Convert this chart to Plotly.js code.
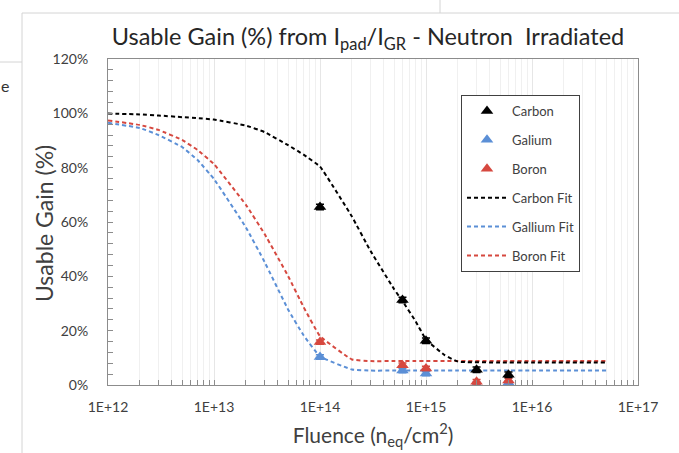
<!DOCTYPE html>
<html>
<head>
<meta charset="utf-8">
<script src="https://cdn.plot.ly/plotly-3.0.1.min.js"></script>
<style>html,body{margin:0;padding:0;background:#fff;}#chart{width:679px;height:453px;}</style>
</head>
<body>
<div id="chart"></div>
<script>
// ---- measured data (percent) ----
var fluence = [1e14, 6e14, 1e15, 3e15, 6e15];
var carbon  = [65.5, 31.3, 16.3, 5.6, 3.8];
var gallium = [10.3, 5.3, 4.2, 0.3, 0.8];
var boron   = [15.8, 7.3, 6.1, 1.2, 1.7];
var carbonErr  = [1.0, 1.0, 1.0, 1.0, 1.0];
var galliumErr = [0.8, 0.8, 0.8, 0.8, 0.8];
var boronErr   = [0.8, 0.8, 0.8, 0.8, 0.8];

// ---- fit curves ----
var fitFluence = [1e12, 2e12, 3e12, 5e12, 7e12, 1e13, 2e13, 3e13, 5e13, 7e13, 1e14, 2e14, 3e14, 5e14, 6e14, 8e14, 1e15, 1.5e15, 2e15, 5e15, 1e16, 5e16];
var carbonFit  = [99.9, 99.6, 99.2, 98.6, 98.2, 97.7, 95.5, 93.1, 88.3, 84.8, 80.4, 62.0, 49.3, 35.3, 30.9, 23.4, 16.7, 11.0, 8.6, 8.3, 8.3, 8.3];
var galliumFit = [96.5, 94.6, 92.0, 87.6, 82.8, 75.8, 58.0, 45.3, 27.8, 18.3, 10.5, 5.7, 5.3, 5.3, 5.3, 5.3, 5.3, 5.3, 5.3, 5.3, 5.3, 5.3];
var boronFit   = [97.4, 95.7, 93.9, 90.2, 86.5, 81.3, 66.3, 55.6, 40.1, 28.7, 18.0, 9.4, 8.8, 8.8, 8.8, 8.8, 8.8, 8.8, 8.8, 8.8, 8.8, 8.8];

// ---- tick labels ----
var xTickVals = [1e12, 1e13, 1e14, 1e15, 1e16, 1e17];
var xTickText = ['1E+12', '1E+13', '1E+14', '1E+15', '1E+16', '1E+17'];

var BLACK = '#000000', BLUE = '#5B8FD6', RED = '#D6483F';
var FONT = 'Lato, "Open Sans", sans-serif';

// plot-area pixel geometry (for decorative frame shapes / title placement)
var L = 108, R = 638, T = 59, B = 385;
function px(x){ return (x - L) / (R - L); }
function py(y){ return (B - y) / (B - T); }

function pts(name, y, err, color, rank){
  return {x: fluence, y: y, name: name, type: 'scatter', mode: 'markers',
    marker: {symbol: 'triangle-up', size: 11, color: color},
    error_y: {type: 'data', array: err, visible: true, color: color, thickness: 1.5, width: 4},
    legendrank: rank, legendgroup: name};
}
function fit(name, y, color, rank){
  return {x: fitFluence, y: y, name: name, type: 'scatter', mode: 'lines',
    line: {color: color, width: 2, dash: '4px,3px', shape: 'spline', smoothing: 0.3},
    legendrank: rank, legendgroup: name};
}

var data = [
  fit('Gallium Fit', galliumFit, BLUE, 5),
  fit('Boron Fit', boronFit, RED, 6),
  fit('Carbon Fit', carbonFit, BLACK, 4),
  pts('Galium', gallium, galliumErr, BLUE, 2),
  pts('Boron', boron, boronErr, RED, 3),
  pts('Carbon', carbon, carbonErr, BLACK, 1)
];

var frame = '#d4d4d4';
var layout = {
  width: 679, height: 453,
  margin: {l: L, r: 679 - R, t: T, b: 453 - B, pad: 0},
  paper_bgcolor: '#ffffff', plot_bgcolor: '#ffffff',
  font: {family: FONT, color: '#404040', size: 12},
  title: {text: 'Usable Gain (%) from I<sub>pad</sub>/I<sub>GR</sub> - Neutron  Irradiated',
    font: {family: FONT, size: 23.5, color: '#262626'},
    x: 0.542, xanchor: 'center', y: 1 - 37/453, yanchor: 'middle'},
  xaxis: {type: 'log', range: [12, 17], tickmode: 'array', tickvals: xTickVals, ticktext: xTickText,
    ticks: 'inside', ticklen: 5, tickcolor: '#8c8c8c', showline: true, linecolor: '#8c8c8c', linewidth: 1, mirror: true,
    showgrid: true, gridcolor: '#e6e6e6', gridwidth: 1, zeroline: false,
    tickfont: {family: FONT, size: 14, color: '#404040'}, ticklabelstandoff: 9,
    minor: {dtick: 'D1', ticks: 'inside', ticklen: 5, tickcolor: '#8c8c8c', showgrid: true, gridcolor: '#f0f0f0', gridwidth: 1},
    title: {text: 'Fluence (n<sub>eq</sub>/cm<sup>2</sup>)', font: {family: FONT, size: 21, color: '#404040'}, standoff: 14}},
  yaxis: {range: [0, 120], dtick: 20, ticksuffix: '%', ticks: 'inside', ticklen: 5, tickcolor: '#8c8c8c',
    showline: true, linecolor: '#8c8c8c', linewidth: 1, mirror: true, showgrid: false, zeroline: false,
    tickfont: {family: FONT, size: 14, color: '#404040'}, ticklabelstandoff: 16,
    minor: {dtick: 4, ticks: 'inside', ticklen: 5, tickcolor: '#8c8c8c', showgrid: false}},
  showlegend: true,
  legend: {x: px(461), y: py(95), xanchor: 'left', yanchor: 'top', bgcolor: '#ffffff',
    bordercolor: '#404040', borderwidth: 1, font: {family: FONT, size: 13, color: '#404040'},
    traceorder: 'grouped', tracegroupgap: 9, itemwidth: 40},
  shapes: [
    {type: 'line', xref: 'paper', yref: 'paper', x0: px(22), x1: px(22), y0: py(13), y1: py(453), line: {color: frame, width: 1}},
    {type: 'line', xref: 'paper', yref: 'paper', x0: px(22), x1: px(679), y0: py(13), y1: py(13), line: {color: frame, width: 1}},
    {type: 'line', xref: 'paper', yref: 'paper', x0: px(0), x1: px(22), y0: py(62), y1: py(62), line: {color: frame, width: 1}},
    {type: 'line', xref: 'paper', yref: 'paper', x0: px(440), x1: px(440), y0: py(0), y1: py(13), line: {color: frame, width: 1}}
  ],
  annotations: [
    {xref: 'paper', yref: 'paper', x: px(44), y: py(224), xanchor: 'center', yanchor: 'middle', showarrow: false,
     textangle: -90, text: 'Usable Gain (%)', font: {family: FONT, size: 23, color: '#404040'}},
    {xref: 'paper', yref: 'paper', x: px(-1), y: py(85), xanchor: 'left', yanchor: 'middle', showarrow: false,
     text: 'e', font: {family: FONT, size: 16, color: '#333333'}}
  ]
};

Plotly.newPlot('chart', data, layout, {displayModeBar: false, staticPlot: true});
</script>
</body>
</html>
